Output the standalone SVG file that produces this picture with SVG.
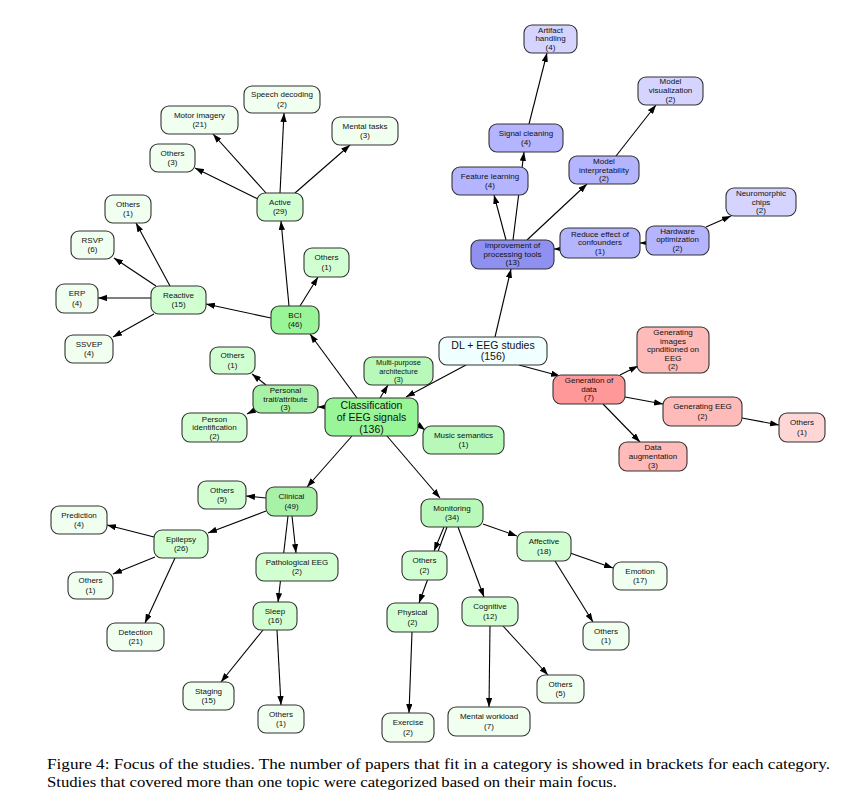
<svg xmlns="http://www.w3.org/2000/svg" width="856" height="807" viewBox="0 0 856 807">
<style>
.node rect{stroke:#333;stroke-width:1.1;rx:8;ry:8}
.node text{font-family:"Liberation Sans",Arial,sans-serif;font-size:8px;fill:#111;text-anchor:middle;dominant-baseline:central}
.lg{fill:#f0fff0}.mg{fill:#d2ffd2}.g3{fill:#b8f8b8}.g2{fill:#a8f2a8}.g1{fill:#98f598}
.lb{fill:#d4d4ff}.mb{fill:#b4b4ff}.db{fill:#9090f0}
.dl{fill:#f0ffff}
.dr{fill:#ff9898}.mr{fill:#ffbaba}.lr{fill:#ffd6d6}
#edges line{stroke:#000;stroke-width:1.1;marker-end:url(#ah)}
.cap{font-family:"Liberation Serif","Times New Roman",serif;font-size:15.5px;fill:#000}
</style>
<defs>
<marker id="ah" viewBox="0 0 10 7" markerWidth="9" markerHeight="6.3" refX="10" refY="3.5" orient="auto" markerUnits="userSpaceOnUse"><path d="M0,0L10,3.5L0,7z" fill="#000"/></marker>
</defs>
<rect width="856" height="807" fill="#fff"/>
<g id="edges">
<line x1="495" y1="337" x2="511" y2="269"/>
<line x1="466" y1="365" x2="406" y2="397"/>
<line x1="519" y1="365" x2="560" y2="376"/>
<line x1="506" y1="240" x2="494" y2="195"/>
<line x1="513" y1="240" x2="524" y2="152"/>
<line x1="527" y1="240" x2="587" y2="184"/>
<line x1="529" y1="124" x2="547" y2="53"/>
<line x1="616" y1="156" x2="656" y2="105"/>
<line x1="561" y1="249" x2="554" y2="249"/>
<line x1="647" y1="243" x2="640" y2="243"/>
<line x1="706" y1="227" x2="731" y2="216"/>
<line x1="380" y1="398" x2="388" y2="385"/>
<line x1="417" y1="424" x2="425" y2="430"/>
<line x1="326" y1="407" x2="318" y2="407"/>
<line x1="357" y1="398" x2="310" y2="334"/>
<line x1="352" y1="436" x2="307" y2="487"/>
<line x1="387" y1="436" x2="440" y2="498"/>
<line x1="266" y1="385" x2="252" y2="374"/>
<line x1="255" y1="410" x2="247" y2="414"/>
<line x1="271" y1="318" x2="206" y2="304"/>
<line x1="289" y1="306" x2="281" y2="221"/>
<line x1="300" y1="306" x2="318" y2="277"/>
<line x1="258" y1="199" x2="195" y2="168"/>
<line x1="266" y1="193" x2="213" y2="134"/>
<line x1="280" y1="193" x2="284" y2="113"/>
<line x1="295" y1="193" x2="350" y2="145"/>
<line x1="170" y1="286" x2="136" y2="223"/>
<line x1="156" y1="286" x2="114" y2="258"/>
<line x1="151" y1="298" x2="98" y2="298"/>
<line x1="154" y1="314" x2="113" y2="337"/>
<line x1="266" y1="498" x2="246" y2="496"/>
<line x1="266" y1="511" x2="208" y2="533"/>
<line x1="288" y1="516" x2="278" y2="602"/>
<line x1="292" y1="516" x2="296" y2="553"/>
<line x1="154" y1="537" x2="107" y2="525"/>
<line x1="155" y1="557" x2="113" y2="574"/>
<line x1="175" y1="558" x2="145" y2="623"/>
<line x1="263" y1="630" x2="221" y2="682"/>
<line x1="277" y1="630" x2="281" y2="705"/>
<line x1="447" y1="527" x2="419" y2="603"/>
<line x1="444" y1="527" x2="434" y2="551"/>
<line x1="458" y1="527" x2="484" y2="597"/>
<line x1="483" y1="524" x2="517" y2="536"/>
<line x1="570" y1="553" x2="613" y2="568"/>
<line x1="555" y1="561" x2="593" y2="622"/>
<line x1="490" y1="626" x2="489" y2="707"/>
<line x1="503" y1="626" x2="548" y2="675"/>
<line x1="412" y1="632" x2="409" y2="713"/>
<line x1="620" y1="375" x2="638" y2="366"/>
<line x1="625" y1="397" x2="663" y2="404"/>
<line x1="603" y1="404" x2="640" y2="442"/>
<line x1="742" y1="418" x2="779" y2="425"/>
</g>
<g id="dl" class="node"><rect class="dl" x="439" y="337" width="108" height="28"/><text x="493" y="344.5" style="font-size:10.5px">DL + EEG studies</text><text x="493" y="356" style="font-size:10.5px">(156)</text></g>
<g id="improvement" class="node"><rect class="db" x="471" y="240" width="83" height="29"/><text x="512.5" y="245.5">Improvement of</text><text x="512.5" y="254">processing tools</text><text x="512.5" y="262.5">(13)</text></g>
<g id="feature" class="node"><rect class="mb" x="452" y="167" width="76" height="28"/><text x="490" y="176.2">Feature learning</text><text x="490" y="185.8">(4)</text></g>
<g id="signal" class="node"><rect class="mb" x="489" y="124" width="74" height="28"/><text x="526" y="133.2">Signal cleaning</text><text x="526" y="142.8">(4)</text></g>
<g id="artifact" class="node"><rect class="lb" x="524" y="25" width="53" height="28"/><text x="550.5" y="30">Artifact</text><text x="550.5" y="38.6">handling</text><text x="550.5" y="47.2">(4)</text></g>
<g id="modelint" class="node"><rect class="mb" x="569" y="156" width="70" height="28"/><text x="604" y="161.6">Model</text><text x="604" y="170.2">interpretability</text><text x="604" y="178.8">(2)</text></g>
<g id="modelvis" class="node"><rect class="lb" x="638" y="77" width="65" height="28"/><text x="670.5" y="81.6">Model</text><text x="670.5" y="90.4">visualization</text><text x="670.5" y="99.2">(2)</text></g>
<g id="reduce" class="node"><rect class="mb" x="560" y="228" width="80" height="30"/><text x="600" y="234">Reduce effect of</text><text x="600" y="242.6">confounders</text><text x="600" y="251.4">(1)</text></g>
<g id="hardware" class="node"><rect class="mb" x="646" y="226" width="63" height="29"/><text x="677.5" y="231.2">Hardware</text><text x="677.5" y="239.6">optimization</text><text x="677.5" y="248.2">(2)</text></g>
<g id="neuro" class="node"><rect class="lb" x="726" y="188" width="70" height="28"/><text x="761" y="193.4">Neuromorphic</text><text x="761" y="202.2">chips</text><text x="761" y="210.8">(2)</text></g>
<g id="generation" class="node"><rect class="dr" x="553" y="375" width="72" height="29"/><text x="589" y="380.4">Generation of</text><text x="589" y="389">data</text><text x="589" y="397.6">(7)</text></g>
<g id="genimages" class="node"><rect class="mr" x="637" y="327" width="72" height="46"/><text x="673" y="332.6">Generating</text><text x="673" y="341.2">images</text><text x="673" y="349.4">cpnditioned on</text><text x="673" y="358">EEG</text><text x="673" y="366.6">(2)</text></g>
<g id="geneeg" class="node"><rect class="mr" x="663" y="397" width="79" height="29"/><text x="702.5" y="406.7">Generating EEG</text><text x="702.5" y="416.3">(2)</text></g>
<g id="othersG" class="node"><rect class="lr" x="779" y="413" width="46" height="29"/><text x="802" y="422.7">Others</text><text x="802" y="432.3">(1)</text></g>
<g id="dataaug" class="node"><rect class="mr" x="619" y="442" width="68" height="29"/><text x="653" y="447.6">Data</text><text x="653" y="456.4">augmentation</text><text x="653" y="465">(3)</text></g>
<g id="classification" class="node"><rect class="g1" x="325" y="398" width="93" height="38"/><text x="371.5" y="404.6" style="font-size:10.5px">Classification</text><text x="371.5" y="416.8" style="font-size:10.5px">of EEG signals</text><text x="371.5" y="429" style="font-size:10.5px">(136)</text></g>
<g id="multi" class="node"><rect class="g3" x="364" y="357" width="69" height="28"/><text x="398.5" y="362.8" style="font-size:7.4px">Multi-purpose</text><text x="398.5" y="371" style="font-size:7.4px">architecture</text><text x="398.5" y="379.2" style="font-size:7.4px">(3)</text></g>
<g id="music" class="node"><rect class="g3" x="423" y="426" width="81" height="28"/><text x="463.5" y="435.4">Music semantics</text><text x="463.5" y="444.4">(1)</text></g>
<g id="personal" class="node"><rect class="g2" x="253" y="385" width="65" height="28"/><text x="285.5" y="390.6">Personal</text><text x="285.5" y="399">trait/attribute</text><text x="285.5" y="407.4">(3)</text></g>
<g id="personid" class="node"><rect class="mg" x="182" y="413" width="65" height="29"/><text x="214.5" y="419.2">Person</text><text x="214.5" y="427.5">identification</text><text x="214.5" y="436">(2)</text></g>
<g id="othersP" class="node"><rect class="mg" x="210" y="347" width="45" height="27"/><text x="232.5" y="355.7">Others</text><text x="232.5" y="365.3">(1)</text></g>
<g id="bci" class="node"><rect class="g1" x="271" y="306" width="48" height="28"/><text x="295" y="315.2">BCI</text><text x="295" y="324.8">(46)</text></g>
<g id="othersB" class="node"><rect class="mg" x="304" y="248" width="45" height="29"/><text x="326.5" y="257.7">Others</text><text x="326.5" y="267.3">(1)</text></g>
<g id="active" class="node"><rect class="mg" x="257" y="193" width="46" height="28"/><text x="280" y="202.2">Active</text><text x="280" y="211.8">(29)</text></g>
<g id="speech" class="node"><rect class="lg" x="244" y="86" width="76" height="27"/><text x="282" y="94.7">Speech decoding</text><text x="282" y="104.3">(2)</text></g>
<g id="motor" class="node"><rect class="lg" x="161" y="106" width="77" height="28"/><text x="199.5" y="115.2">Motor imagery</text><text x="199.5" y="124.8">(21)</text></g>
<g id="others3" class="node"><rect class="lg" x="150" y="144" width="45" height="28"/><text x="172.5" y="153.2">Others</text><text x="172.5" y="162.8">(3)</text></g>
<g id="mental" class="node"><rect class="lg" x="332" y="117" width="66" height="28"/><text x="365" y="126.2">Mental tasks</text><text x="365" y="135.8">(3)</text></g>
<g id="reactive" class="node"><rect class="mg" x="151" y="286" width="55" height="28"/><text x="178.5" y="295.2">Reactive</text><text x="178.5" y="304.8">(15)</text></g>
<g id="othersR" class="node"><rect class="lg" x="105" y="195" width="46" height="28"/><text x="128" y="204.2">Others</text><text x="128" y="213.8">(1)</text></g>
<g id="rsvp" class="node"><rect class="lg" x="71" y="231" width="43" height="28"/><text x="92.5" y="240.2">RSVP</text><text x="92.5" y="249.8">(6)</text></g>
<g id="erp" class="node"><rect class="lg" x="56" y="284" width="42" height="29"/><text x="77" y="293.7">ERP</text><text x="77" y="303.3">(4)</text></g>
<g id="ssvep" class="node"><rect class="lg" x="65" y="335" width="48" height="28"/><text x="89" y="344.2">SSVEP</text><text x="89" y="353.8">(4)</text></g>
<g id="clinical" class="node"><rect class="g2" x="266" y="487" width="51" height="29"/><text x="291.5" y="496.7">Clinical</text><text x="291.5" y="506.3">(49)</text></g>
<g id="others5" class="node"><rect class="mg" x="198" y="481" width="48" height="28"/><text x="222" y="490.2">Others</text><text x="222" y="499.8">(5)</text></g>
<g id="epilepsy" class="node"><rect class="mg" x="154" y="530" width="54" height="28"/><text x="181" y="539.2">Epilepsy</text><text x="181" y="548.8">(26)</text></g>
<g id="prediction" class="node"><rect class="lg" x="51" y="506" width="56" height="28"/><text x="79" y="515.2">Prediction</text><text x="79" y="524.8">(4)</text></g>
<g id="othersE" class="node"><rect class="lg" x="68" y="572" width="45" height="27"/><text x="90.5" y="580.7">Others</text><text x="90.5" y="590.3">(1)</text></g>
<g id="detection" class="node"><rect class="lg" x="107" y="623" width="57" height="28"/><text x="135.5" y="632.2">Detection</text><text x="135.5" y="641.8">(21)</text></g>
<g id="patho" class="node"><rect class="mg" x="256" y="553" width="82" height="28"/><text x="297" y="562.2">Pathological EEG</text><text x="297" y="571.8">(2)</text></g>
<g id="sleep" class="node"><rect class="mg" x="253" y="602" width="44" height="28"/><text x="275" y="611.2">Sleep</text><text x="275" y="620.8">(16)</text></g>
<g id="staging" class="node"><rect class="lg" x="183" y="682" width="51" height="28"/><text x="208.5" y="691.2">Staging</text><text x="208.5" y="700.8">(15)</text></g>
<g id="othersS" class="node"><rect class="lg" x="258" y="705" width="46" height="28"/><text x="281" y="714.2">Others</text><text x="281" y="723.8">(1)</text></g>
<g id="monitoring" class="node"><rect class="g3" x="421" y="499" width="62" height="28"/><text x="452" y="508.2">Monitoring</text><text x="452" y="517.8">(34)</text></g>
<g id="others2" class="node"><rect class="mg" x="402" y="551" width="45" height="29"/><text x="424.5" y="560.7">Others</text><text x="424.5" y="570.3">(2)</text></g>
<g id="physical" class="node"><rect class="mg" x="387" y="603" width="51" height="29"/><text x="412.5" y="612.7">Physical</text><text x="412.5" y="622.3">(2)</text></g>
<g id="exercise" class="node"><rect class="lg" x="382" y="713" width="52" height="29"/><text x="408" y="722.7">Exercise</text><text x="408" y="732.3">(2)</text></g>
<g id="cognitive" class="node"><rect class="mg" x="462" y="597" width="56" height="29"/><text x="490" y="606.7">Cognitive</text><text x="490" y="616.3">(12)</text></g>
<g id="mentalw" class="node"><rect class="lg" x="448" y="707" width="82" height="29"/><text x="489" y="716.7">Mental workload</text><text x="489" y="726.3">(7)</text></g>
<g id="othersC" class="node"><rect class="lg" x="537" y="675" width="47" height="28"/><text x="560.5" y="684.2">Others</text><text x="560.5" y="693.8">(5)</text></g>
<g id="affective" class="node"><rect class="mg" x="517" y="532" width="54" height="29"/><text x="544" y="541.7">Affective</text><text x="544" y="551.3">(18)</text></g>
<g id="emotion" class="node"><rect class="lg" x="613" y="562" width="54" height="28"/><text x="640" y="571.2">Emotion</text><text x="640" y="580.8">(17)</text></g>
<g id="othersA" class="node"><rect class="lg" x="583" y="622" width="46" height="28"/><text x="606" y="631.2">Others</text><text x="606" y="640.8">(1)</text></g>
<text class="cap" x="47" y="769" textLength="783" lengthAdjust="spacingAndGlyphs">Figure 4: Focus of the studies. The number of papers that fit in a category is showed in brackets for each category.</text>
<text class="cap" x="47" y="787" textLength="570" lengthAdjust="spacingAndGlyphs">Studies that covered more than one topic were categorized based on their main focus.</text>
</svg>
